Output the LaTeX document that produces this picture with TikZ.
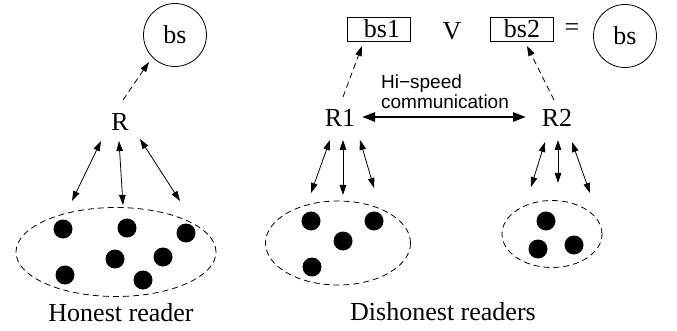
\documentclass[tikz,border=0pt]{standalone}
\usepackage{fontspec}
\setmainfont{Liberation Serif}
\newfontfamily\labelsans{Liberation Sans}
\usetikzlibrary{arrows.meta,shapes.geometric}
\begin{document}
\begin{tikzpicture}[x=1pt,y=-1pt,
  txt/.style={inner sep=0pt,font=\fontsize{26}{30}\selectfont},
  bsbox/.style={draw,line width=0.8pt,inner sep=0pt,minimum width=63pt,minimum height=24pt,font=\fontsize{26}{30}\selectfont},
  bscirc/.style={draw,circle,line width=0.8pt,inner sep=0pt,minimum size=63pt,font=\fontsize{26}{30}\selectfont},
  group/.style={draw,ellipse,dash pattern=on 6pt off 4pt,line width=0.8pt,inner sep=0pt},
  tag/.style={circle,fill=black,inner sep=0pt,minimum size=19pt},
  link/.style={line width=0.8pt,{Triangle[length=10pt,width=6.5pt]}-{Triangle[length=10pt,width=6.5pt]}},
  report/.style={line width=0.8pt,dash pattern=on 6pt off 4pt,-{Triangle[length=10pt,width=6.5pt]}},
  fast/.style={line width=2.6pt,{Triangle[length=13pt,width=9pt]}-{Triangle[length=13pt,width=9pt]}}
]
\useasboundingbox (0,0) rectangle (677,331);

% ---- honest reader ----
\node[bscirc] (bsL) at (175,35) {bs};
\node[txt] (R) at (120,122) {R};
\node[group,minimum width=200pt,minimum height=89pt] (gH) at (116,252) {};
\foreach \p/\n in {{(63,229)}/h1,{(127,228)}/h2,{(186,233)}/h3,{(65,275)}/h4,{(115,259)}/h5,{(163,257)}/h6,{(143,280)}/h7}
  \node[tag] (\n) at \p {};
\node[txt] (lblH) at (121,313) {Honest reader};

\coordinate (R-up) at (123,100);
\coordinate (bsL-in) at (149,62);
\draw[report] (R-up) -- (bsL-in);

\coordinate (R-a) at (101,141);  \coordinate (gH-a) at (72,201);
\coordinate (R-b) at (119,141);  \coordinate (gH-b) at (123,205);
\coordinate (R-c) at (140,139);  \coordinate (gH-c) at (180,201);
\draw[link] (R-a) -- (gH-a);
\draw[link] (R-b) -- (gH-b);
\draw[link] (R-c) -- (gH-c);

% ---- dishonest readers ----
\node[bsbox] (bs1) at (379,29) {\hspace*{6pt}bs1};
\node[txt] (vee) at (452,31) {V};
\node[bsbox] (bs2) at (522,29) {bs2};
\node[txt] (eq) at (572,30) {=};
\node[bscirc] (bsR) at (625,36) {bs};

\node[txt] (R1) at (340,118) {R1};
\node[txt] (R2) at (557,118) {R2};

\coordinate (R1-up) at (343,97);  \coordinate (bs1-in) at (362,46);
\coordinate (R2-up) at (554,100); \coordinate (bs2-in) at (527,46);
\draw[report] (R1-up) -- (bs1-in);
\draw[report] (R2-up) -- (bs2-in);

\coordinate (R1-e) at (362,117);  \coordinate (R2-w) at (526,117);
\draw[fast] (R1-e) -- (R2-w);
\node[inner sep=0pt,align=left,font=\labelsans\fontsize{19}{20}\selectfont] (hs) at (445,92) {Hi−speed\\communication};

\node[group,minimum width=145pt,minimum height=84pt] (g1) at (338,243) {};
\foreach \p/\n in {{(311,221)}/d1,{(374,221)}/d2,{(343,241)}/d3,{(312,267)}/d4}
  \node[tag] (\n) at \p {};
\node[group,minimum width=100pt,minimum height=67pt] (g2) at (552,234) {};
\foreach \p/\n in {{(546,221)}/d5,{(538,249)}/d6,{(574,245)}/d7}
  \node[tag] (\n) at \p {};

\coordinate (R1-a) at (330,140); \coordinate (g1-a) at (311,193);
\coordinate (R1-b) at (343,140); \coordinate (g1-b) at (343,195);
\coordinate (R1-c) at (360,140); \coordinate (g1-c) at (374,188);
\draw[link] (R1-a) -- (g1-a);
\draw[link] (R1-b) -- (g1-b);
\draw[link] (R1-c) -- (g1-c);

\coordinate (R2-a) at (545,142); \coordinate (g2-a) at (531,187);
\coordinate (R2-b) at (558,140); \coordinate (g2-b) at (558,183);
\coordinate (R2-c) at (572,142); \coordinate (g2-c) at (590,193);
\draw[link] (R2-a) -- (g2-a);
\draw[link] (R2-b) -- (g2-b);
\draw[link] (R2-c) -- (g2-c);

\node[txt] (lblD) at (443,312) {Dishonest readers};
\end{tikzpicture}
\end{document}
